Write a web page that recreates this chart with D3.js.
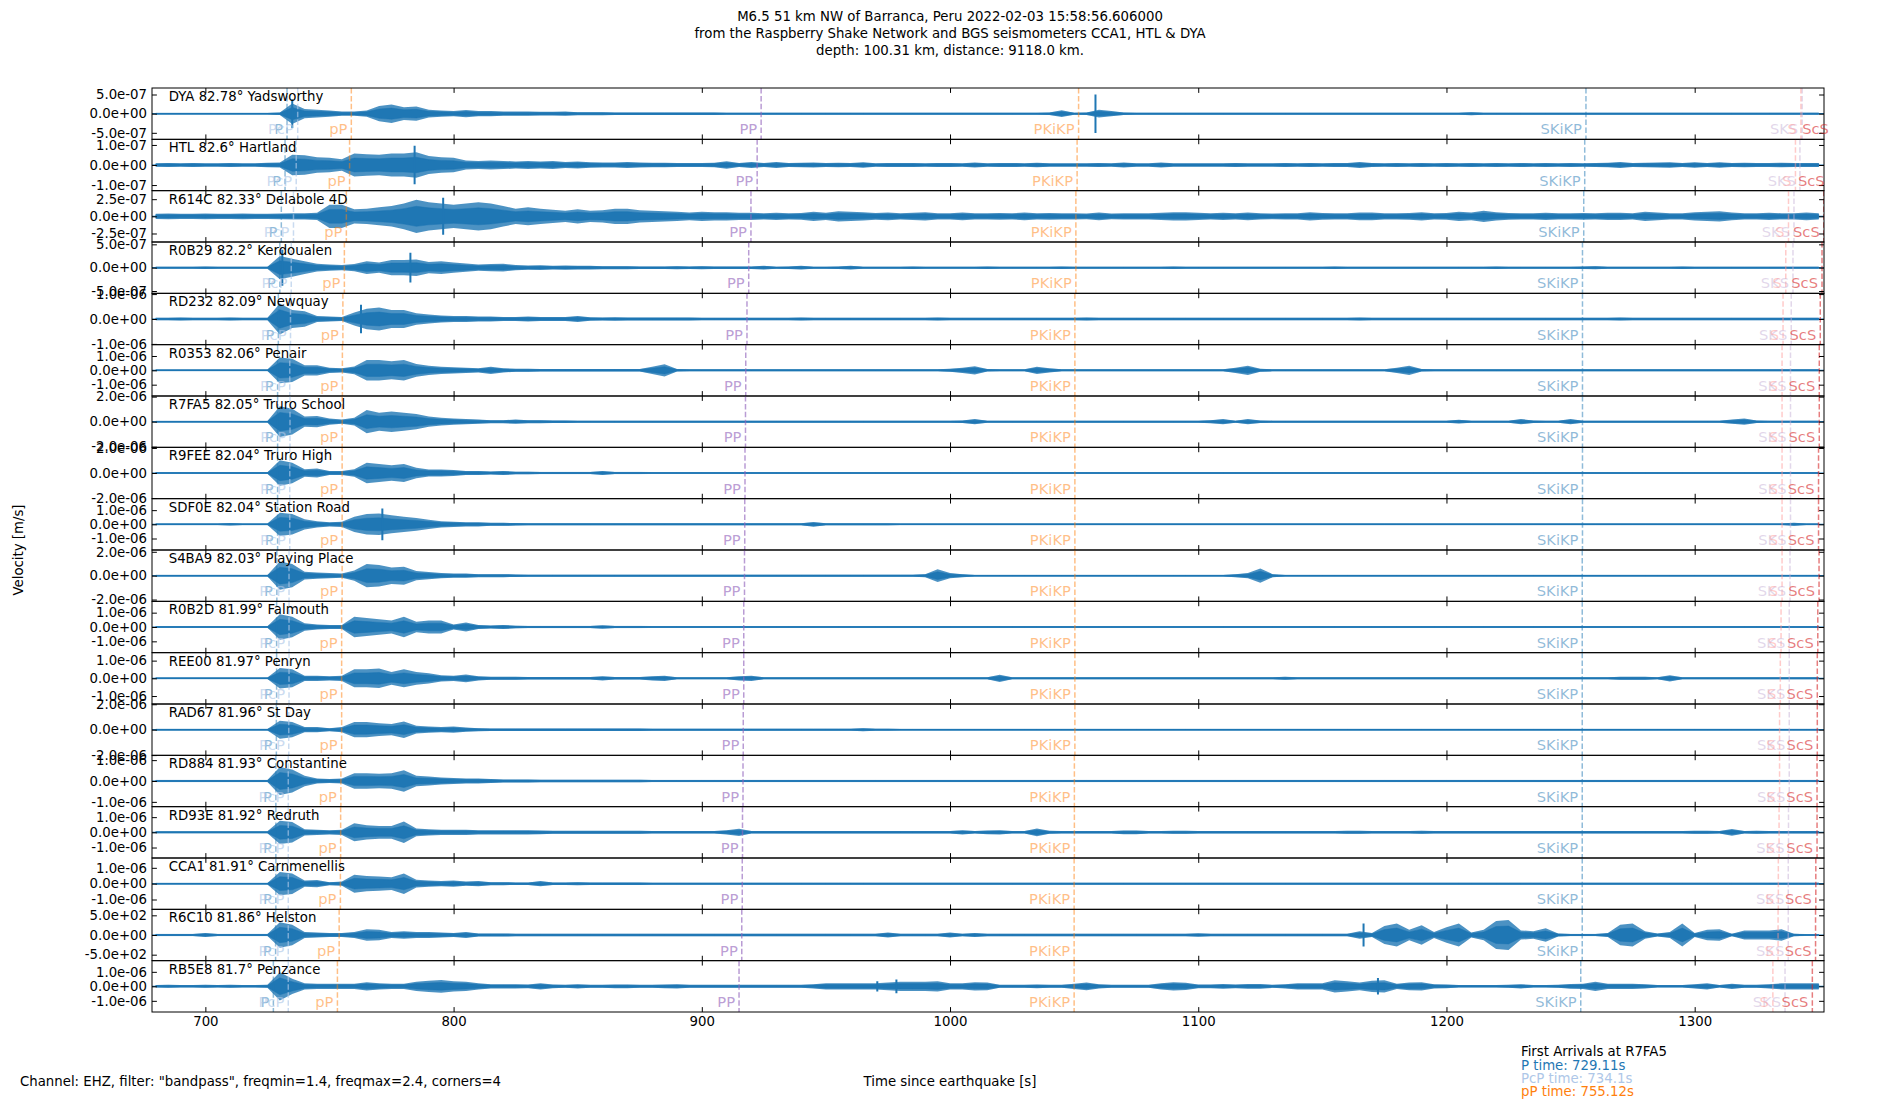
<!DOCTYPE html>
<html>
<head>
<meta charset="utf-8">
<script src="https://cdn.jsdelivr.net/npm/d3@7"></script>
<style>
  body { margin: 0; background: #fff; }
  svg { display: block; }
  text { font-family: "DejaVu Sans", sans-serif; }
</style>
</head>
<body>
<svg id="chart"></svg>
<script>
// ---- stations (top to bottom) ----
var stationCodes = ["DYA", "HTL", "R614C", "R0B29", "RD232", "R0353", "R7FA5", "R9FEE", "SDF0E",
                    "S4BA9", "R0B2D", "REE00", "RAD67", "RD884", "RD93E", "CCA1", "R6C10", "RB5E8"];
var stationDistances = [82.78, 82.6, 82.33, 82.2, 82.09, 82.06, 82.05, 82.04, 82.04,
                        82.03, 81.99, 81.97, 81.96, 81.93, 81.92, 81.91, 81.86, 81.7];
var stationNames = ["Yadsworthy", "Hartland", "Delabole 4D", "Kerdoualen", "Newquay", "Penair",
                    "Truro School", "Truro High", "Station Road", "Playing Place", "Falmouth", "Penryn",
                    "St Day", "Constantine", "Redruth", "Carnmenellis", "Helston", "Penzance"];

// amplitude limit of each panel (m/s, R6C10 in counts) and the tick step shown
var yLimits = [6.7e-7, 1.28e-7, 3.74e-7, 5.5e-7, 1.03e-6, 1.79e-6, 2.05e-6, 2.05e-6, 1.81e-6,
               2.15e-6, 1.79e-6, 1.45e-6, 2.02e-6, 1.23e-6, 1.69e-6, 1.62e-6, 652, 1.77e-6];
var yTickSteps = [5e-7, 1e-7, 2.5e-7, 5e-7, 1e-6, 1e-6, 2e-6, 2e-6, 1e-6,
                  2e-6, 1e-6, 1e-6, 2e-6, 1e-6, 1e-6, 1e-6, 500, 1e-6];

// x ticks (time since earthquake, s)
var xTicks = [700, 800, 900, 1000, 1100, 1200, 1300];

// ---- trace envelopes: peak amplitude every 5 s from 680 s, in % of the panel limit ----
var envDYA = [3,3,3,3,3,3,3,3,3,3, 5,40,18,15,12,8,8,12,30,36, 25,28,15,12,10,14,10,10,8,8,
  8,7,7,8,6,6,6,5,5,5, 5,5,5,5,5,5,4,4,4,4, 4,4,4,4,4,4,4,4,4,4, 4,4,4,4,4,4,4,4,4,4,
  4,4,5,13,4,5,15,10,5,4, 4,4,4,4,4,4,4,4,4,4, 4,4,4,4,4,4,4,4,4,4, 4,4,4,4,4,4,6,4,4,4,
  4,4,4,4,4,4,4,4,4,4, 4,4,4,4,4,4,4,4,4,4, 4,4,4,4,4];
var envHTL = [7,8,7,8,7,7,8,7,7,9, 10,40,38,30,28,22,45,42,40,45, 45,50,35,30,28,18,16,18,16,14,
  16,14,16,12,14,11,10,10,12,10, 9,9,8,8,8,9,15,8,12,8, 12,8,9,10,8,9,8,11,7,8, 8,8,7,8,8,7,10,7,8,8,
  7,9,7,7,7,7,8,7,10,7, 7,10,7,7,7,7,7,8,7,7, 7,8,7,8,7,8,8,12,8,7, 8,7,8,7,8,7,8,7,8,7,
  8,7,8,7,8,7,8,9,12,8, 9,10,11,8,11,8,11,8,9,8, 8,9,8,8,8];
var envR614C = [10,11,10,10,11,10,10,11,10,10, 11,12,12,14,45,45,28,30,35,40, 50,65,55,50,45,50,55,50,40,30,
  35,30,26,22,28,22,24,30,30,24, 22,20,18,15,18,16,16,14,14,12, 14,12,13,18,14,20,18,16,13,15,
  12,14,16,12,12,15,12,12,13,12, 15,12,13,12,12,11,15,11,12,12, 12,14,16,16,14,12,14,12,15,12,
  11,12,12,16,13,12,12,15,15,12, 12,13,16,12,13,18,15,22,16,13, 12,12,14,12,12,13,12,14,14,12,
  18,15,12,12,16,18,20,15,12,12, 14,12,12,15,12];
var envR0B29 = [4,4,4,4,5,4,4,4,4,4, 45,35,25,15,12,10,14,25,20,30, 30,32,22,25,20,16,12,14,15,10,
  8,9,7,8,7,7,6,6,6,5, 5,5,6,5,6,5,5,5,5,7, 4,5,7,4,4,5,7,4,4,4, 4,5,4,4,4,4,4,5,4,4,
  4,4,4,5,4,4,4,4,4,4, 4,4,5,4,4,4,4,4,4,4, 4,4,4,4,4,5,4,4,4,4, 4,4,4,4,4,4,4,4,5,4,
  4,4,4,4,4,5,6,4,4,4, 4,4,4,5,4,4,4,4,4,4, 4,4,4,4,4];
var envRD232 = [5,5,6,5,5,5,6,5,5,5, 60,35,30,12,10,8,25,40,45,35, 35,22,18,14,12,12,10,10,8,8,
  10,8,8,8,12,7,6,7,6,6, 6,6,6,6,5,5,5,5,5,5, 5,5,6,5,5,5,5,5,5,5, 5,5,5,6,5,5,5,5,5,5,
  5,5,5,5,5,6,5,5,5,5, 5,5,5,5,5,5,5,5,5,5, 5,5,5,5,5,5,5,6,5,5, 5,5,5,5,5,5,5,5,5,5,
  5,5,5,5,5,5,5,5,6,5, 5,5,5,5,5,5,5,5,5,5, 5,5,5,5,5];
var envR0353 = [3,3,3,3,3,3,3,3,3,3, 50,45,20,20,10,8,15,40,40,35, 40,25,18,14,12,10,8,14,8,6,
  6,5,5,5,5,5,5,5,5,5, 14,24,5,4,4,4,4,4,4,4, 4,4,4,4,4,4,4,4,4,4, 4,4,4,4,6,10,16,5,4,4,
  4,14,8,4,4,4,4,4,4,4, 4,4,4,4,4,4,4,10,18,6, 4,4,4,4,4,4,4,4,4,4, 10,18,5,4,4,4,4,4,4,4,
  4,4,4,4,4,4,4,4,4,4, 4,4,4,4,4,4,4,4,4,4, 4,4,4,4,4];
var envR7FA5 = [3,3,3,3,3,3,3,3,3,3, 60,50,20,22,12,8,15,45,35,40, 35,30,20,15,12,10,8,6,6,8,
  6,6,5,5,4,4,4,4,4,4, 4,4,4,4,4,4,4,4,4,4, 4,4,4,4,4,4,4,4,4,4, 4,4,4,4,4,5,10,4,4,4,
  4,4,4,4,4,4,4,4,4,4, 4,4,4,4,4,6,10,4,10,5, 4,4,4,4,4,4,4,4,4,4, 4,4,4,4,4,7,4,4,4,4,
  10,5,4,4,10,4,4,4,4,4, 4,4,4,4,4,4,4,8,12,5, 4,4,4,4,4];
var envR9FEE = [3,3,3,3,3,3,3,3,3,3, 50,40,15,18,8,8,15,40,35,30, 35,20,14,14,12,8,8,6,8,5,
  5,4,4,4,4,4,8,4,4,4, 3,3,3,3,3,3,3,3,3,3, 3,3,3,3,3,3,3,3,3,3, 3,3,3,3,3,3,3,3,3,3,
  3,3,3,3,3,3,3,3,3,3, 3,3,3,3,3,3,3,3,3,3, 3,3,3,3,3,3,3,3,3,3, 3,3,3,3,3,3,3,3,3,3,
  3,3,3,3,3,3,3,3,3,3, 3,3,3,3,3,3,3,3,3,3, 3,3,3,3,3];
var envSDF0E = [3,3,3,3,3,3,5,3,3,3, 45,40,20,12,8,10,30,40,42,35, 30,25,18,12,10,8,8,6,6,5,
  4,4,4,4,4,4,4,4,4,4, 4,4,4,4,4,4,4,4,4,4, 4,4,4,9,4,4,4,4,4,4, 3,3,3,3,3,3,3,3,3,3,
  3,3,3,3,3,3,3,3,3,3, 3,3,3,3,3,3,3,3,3,3, 3,3,3,3,3,3,3,3,3,3, 3,3,3,3,3,3,3,3,3,3,
  3,3,3,3,3,3,3,3,3,3, 3,3,3,3,3,3,3,3,3,3, 3,3,6,3,3];
var envS4BA9 = [3,3,3,3,3,3,3,3,3,3, 55,45,15,12,10,8,20,45,42,32, 35,18,14,10,8,8,6,6,6,5,
  4,4,4,4,4,4,4,4,4,4, 4,4,4,4,4,4,4,4,4,4, 4,4,4,4,4,4,4,4,4,4, 4,4,6,25,10,6,3,3,3,3,
  3,3,3,3,3,3,3,3,3,3, 3,3,3,3,3,3,3,6,10,28, 6,3,3,3,3,3,3,3,3,3, 3,3,3,3,3,3,3,3,3,3,
  3,3,3,3,3,3,3,3,3,3, 3,3,3,3,3,3,3,3,3,3, 3,3,3,3,3];
var envR0B2D = [3,3,3,3,3,3,3,3,3,3, 50,40,15,10,8,8,40,35,30,25, 40,20,25,25,10,18,8,6,8,5,
  4,4,4,4,4,4,7,4,4,4, 3,3,3,3,3,3,3,3,3,3, 3,3,3,3,3,3,3,3,3,3, 3,3,3,3,3,3,3,3,3,3,
  3,3,3,3,3,3,3,3,3,3, 3,3,3,3,3,3,3,3,3,3, 3,3,3,3,3,3,3,3,3,3, 3,3,3,3,3,3,3,3,3,3,
  3,3,3,3,3,3,3,3,3,3, 3,3,3,3,3,3,3,3,3,3, 3,3,3,3,3];
var envREE00 = [3,3,3,3,3,3,3,3,3,3, 40,35,10,10,8,10,35,35,38,25, 35,25,20,12,10,15,8,6,6,6,
  5,5,5,5,5,5,8,5,5,5, 8,10,4,4,4,4,4,8,10,4, 4,4,4,4,4,4,4,4,4,4, 4,4,4,4,4,4,4,4,14,4,
  4,4,4,4,4,4,4,4,4,4, 4,4,4,4,4,4,4,4,4,4, 4,6,4,4,4,4,4,4,4,4, 4,4,4,4,4,4,4,4,4,4,
  4,4,4,4,4,4,4,4,6,6, 6,4,12,4,4,4,4,4,4,4, 4,4,4,4,4];
var envRAD67 = [3,3,3,3,3,3,3,3,3,3, 35,30,10,10,6,10,30,30,25,22, 32,15,12,10,12,8,6,5,5,5,
  5,5,5,5,5,5,5,5,5,5, 4,4,4,4,4,4,4,4,4,4, 4,4,4,4,4,4,4,6,4,4, 3,3,3,3,3,3,3,3,3,3,
  3,3,3,3,3,3,3,3,3,3, 3,3,3,3,3,3,3,3,3,3, 3,3,3,3,3,3,3,3,3,3, 3,3,3,3,3,3,3,3,3,3,
  3,3,3,3,3,3,3,3,3,3, 3,3,3,3,3,3,3,3,3,3, 3,3,3,3,3];
var envRD884 = [4,4,4,4,4,4,4,4,4,4, 55,45,20,10,8,10,30,30,28,30, 42,20,18,14,12,10,10,8,6,6,
  6,5,5,5,5,5,5,5,5,5, 4,4,4,4,4,4,4,4,4,4, 4,4,4,4,4,4,4,4,4,4, 4,4,4,4,4,4,4,4,4,4,
  4,4,4,4,4,4,4,4,4,4, 4,4,4,4,4,4,4,4,4,4, 4,4,4,4,4,4,4,4,4,4, 4,4,4,4,4,4,4,4,4,4,
  4,4,4,4,4,4,4,4,4,4, 4,4,4,4,4,4,4,4,4,4, 4,4,4,4,4];
var envRD93E = [4,4,4,4,4,4,4,4,4,4, 45,40,12,10,8,10,35,28,25,25, 42,15,12,10,10,10,8,8,8,8,
  8,7,6,6,6,6,6,6,6,6, 5,5,5,5,5,5,8,14,5,5, 5,5,5,5,5,5,5,5,5,5, 5,5,5,5,5,8,5,7,8,5,
  5,15,6,5,5,5,5,5,7,7, 5,5,6,6,5,5,5,5,5,5, 5,5,5,5,5,5,6,6,5,5, 5,5,6,5,5,5,5,5,5,5,
  5,5,5,5,5,5,5,5,5,5, 5,5,5,5,6,6,5,13,5,6, 5,5,5,5,5];
var envCCA1 = [3,3,3,3,3,3,3,3,3,3, 45,40,12,14,6,8,35,30,28,25, 40,15,12,10,12,8,10,6,6,5,
  5,10,5,5,6,5,5,5,5,5, 4,4,4,4,4,4,4,4,4,4, 4,4,4,4,4,4,4,4,4,4, 4,4,4,4,4,4,4,4,4,4,
  4,4,4,4,4,4,4,4,4,4, 4,4,4,4,4,4,4,4,4,4, 4,4,4,4,4,4,4,4,4,4, 4,4,4,4,4,4,4,4,4,4,
  4,4,4,4,4,4,4,4,4,4, 4,4,4,4,4,4,4,4,4,4, 4,4,4,4,4];
var envR6C10 = [4,4,4,4,8,4,4,4,4,4, 50,40,12,10,8,8,12,22,20,12, 15,12,12,10,8,12,6,6,6,5,
  5,5,5,5,5,5,5,5,5,5, 5,5,5,5,5,5,5,5,5,5, 5,5,5,5,5,5,5,5,5,10, 5,5,5,5,10,5,8,5,5,5,
  5,5,5,5,5,5,5,5,5,5, 5,5,5,5,7,5,5,5,5,5, 5,5,5,5,5,5,5,15,8,35, 45,20,38,12,30,45,10,20,55,58,
  18,15,26,6,4,4,4,8,40,45, 15,6,12,45,8,20,22,5,18,18, 18,22,5,3,3];
var envRB5E8 = [5,6,5,5,6,5,6,5,5,6, 55,30,12,10,10,10,10,16,12,10, 10,18,22,25,20,18,12,8,8,8,
  7,12,7,6,8,6,6,7,7,6, 6,7,8,6,6,6,6,6,6,6, 6,6,6,8,12,12,12,12,12,15, 18,18,18,20,12,12,16,15,6,6,
  6,7,6,6,10,15,8,6,6,6, 6,12,16,14,7,7,9,7,9,9, 6,8,12,12,12,24,20,15,22,24, 10,15,16,8,7,5,5,5,5,6,
  8,5,5,6,9,10,18,10,10,10, 8,5,5,5,8,12,5,10,6,6, 8,12,12,12,12];

var envelopes = [envDYA, envHTL, envR614C, envR0B29, envRD232, envR0353, envR7FA5, envR9FEE, envSDF0E,
                 envS4BA9, envR0B2D, envREE00, envRAD67, envRD884, envRD93E, envCCA1, envR6C10, envRB5E8];
var envStart = 680, envStep = 5;

// sharp single peaks (% of the panel limit)
var peakStations = ["DYA", "DYA", "HTL", "R614C", "R0B29", "R0B29", "RD232", "SDF0E", "R6C10", "RB5E8", "RB5E8", "RB5E8"];
var peakTimes = [735.0, 1058.6, 784.3, 795.8, 731.0, 782.6, 762.7, 771.3, 1166.6, 970.7, 978.4, 1172.4];
var peakAmps = [56, 75, 75, 72, 70, 58, 56, 62, 45, 20, 27, 32];

// ---- predicted phase arrivals per station (s) ----
var phaseNames = ["P", "PcP", "pP", "PP", "PKiKP", "SKiKP", "SKS", "S", "ScS"];
var phaseColors = ["#1f77b4", "#aec7e8", "#ff7f0e", "#9467bd", "#ff7f0e", "#1f77b4", "#c5b0d5", "#ff9896", "#d62728"];
var phaseAlpha = [0.5, 0.65, 0.5, 0.65, 0.5, 0.5, 0.5, 0.5, 0.6];
var timesP     = [732.9, 732.1, 730.6, 730.0, 729.4, 729.1, 729.11, 729.1, 729.1, 728.8, 728.7, 728.7, 728.6, 728.4, 728.4, 728.4, 728.3, 727.4];
var timesPcP   = [737.2, 736.6, 735.5, 734.6, 734.3, 734.0, 734.1, 734.0, 734.0, 733.7, 733.7, 733.7, 733.6, 733.4, 733.4, 733.4, 733.4, 733.4];
var timespP    = [758.8, 758.1, 756.8, 756.0, 755.4, 755.2, 755.12, 755.1, 755.1, 755.1, 754.9, 754.9, 754.9, 754.6, 754.5, 754.4, 753.9, 753.2];
var timesPP    = [923.9, 922.3, 919.8, 918.9, 918.2, 917.7, 917.6, 917.4, 917.3, 917.2, 916.9, 916.9, 916.7, 916.6, 916.4, 916.3, 916.1, 915.0];
var timesPKiKP = [1051.8, 1051.2, 1050.7, 1050.7, 1050.3, 1050.3, 1050.3, 1050.3, 1050.3, 1050.3, 1050.3, 1050.3, 1050.3, 1050.1, 1050.1, 1050.0, 1050.0, 1050.0];
var timesSKiKP = [1256.2, 1255.7, 1255.3, 1254.8, 1254.8, 1254.8, 1254.8, 1254.8, 1254.8, 1254.7, 1254.7, 1254.7, 1254.7, 1254.7, 1254.7, 1254.7, 1254.7, 1254.1];
var timesSKS   = [1343.3, 1342.4, 1340.0, 1339.6, 1338.9, 1338.6, 1338.6, 1338.6, 1338.6, 1338.4, 1338.1, 1338.1, 1338.1, 1338.1, 1337.8, 1337.7, 1337.7, 1336.4];
var timesS     = [1342.8, 1340.6, 1337.8, 1336.7, 1335.6, 1335.2, 1335.2, 1335.2, 1335.2, 1335.2, 1334.8, 1334.5, 1334.2, 1334.2, 1334.0, 1333.7, 1333.6, 1331.5];
var timesScS   = [1355.7, 1354.0, 1352.0, 1351.3, 1350.6, 1350.2, 1350.2, 1349.9, 1349.9, 1350.1, 1349.6, 1349.4, 1349.4, 1349.3, 1349.3, 1348.8, 1348.7, 1347.4];
var phaseTimes = [timesP, timesPcP, timespP, timesPP, timesPKiKP, timesSKiKP, timesSKS, timesS, timesScS];

// first arrivals box
var arrivalPhases = ["P", "PcP", "pP"];
var arrivalTimes = ["729.11", "734.1", "755.12"];
var arrivalColors = ["#1f77b4", "#aec7e8", "#ff7f0e"];

var titleLines = ["M6.5 51 km NW of Barranca, Peru 2022-02-03 15:58:56.606000",
                  "from the Raspberry Shake Network and BGS seismometers CCA1, HTL & DYA",
                  "depth: 100.31 km, distance: 9118.0 km."];

// ---- layout ----
var margin = { top: 88, right: 76, bottom: 88, left: 152 },
    width = 1900 - margin.left - margin.right,
    height = 1100 - margin.top - margin.bottom,
    panelH = height / stationCodes.length;

var svg = d3.select("#chart")
    .attr("width", 1900)
    .attr("height", 1100);

svg.append("defs").append("clipPath").attr("id", "panel-clip")
  .append("rect").attr("width", width).attr("height", panelH);

var xScale = d3.scaleLinear()
    .domain([678.5, 1352.1])
    .range([0, width]);

function sci(v) {
  var p = v.toExponential(1).split("e");
  var e = +p[1];
  return p[0] + "e" + (e < 0 ? "-" : "+") + String(Math.abs(e)).padStart(2, "0");
}

function styleAxis(g) {
  g.select(".domain").remove();
  g.selectAll(".tick line").attr("stroke", "#000").attr("stroke-width", 1);
  g.selectAll(".tick text").attr("fill", "#000")
    .style("font-family", "DejaVu Sans").style("font-size", "13.3px");
}

stationCodes.forEach(function(code, i) {
  var lim = yLimits[i];
  var yScale = d3.scaleLinear().domain([-lim, lim]).range([panelH, 0]);
  var panel = svg.append("g")
      .attr("transform", "translate(" + margin.left + "," + (margin.top + i * panelH) + ")");

  var samples = envelopes[i].map(function(p, k) {
    return { t: envStart + k * envStep, a: p / 100 * lim };
  });

  var trace = panel.append("g").attr("clip-path", "url(#panel-clip)");
  trace.append("line")
    .attr("x1", 0).attr("x2", width)
    .attr("y1", yScale(0)).attr("y2", yScale(0))
    .attr("stroke", "#1f77b4").attr("stroke-width", 1.1);

  // outer (peak) envelope a little lighter, inner core solid
  trace.append("path")
    .datum(samples)
    .attr("fill", "#1f77b4").attr("fill-opacity", 0.8)
    .attr("d", d3.area()
      .x(function(d) { return xScale(d.t); })
      .y0(function(d) { return yScale(-d.a); })
      .y1(function(d) { return yScale(d.a); }));
  trace.append("path")
    .datum(samples)
    .attr("fill", "#1f77b4")
    .attr("stroke", "#1f77b4").attr("stroke-width", 0.5)
    .attr("d", d3.area()
      .x(function(d) { return xScale(d.t); })
      .y0(function(d) { return yScale(-d.a * 0.6); })
      .y1(function(d) { return yScale(d.a * 0.6); }));

  peakStations.forEach(function(s, k) {
    if (s !== code) return;
    var a = peakAmps[k] / 100 * lim;
    trace.append("line")
      .attr("x1", xScale(peakTimes[k])).attr("x2", xScale(peakTimes[k]))
      .attr("y1", yScale(-a)).attr("y2", yScale(a))
      .attr("stroke", "#1f77b4").attr("stroke-width", 2);
  });

  // phase lines
  phaseNames.forEach(function(ph, j) {
    var t = phaseTimes[j][i];
    trace.append("line")
      .attr("x1", xScale(t)).attr("x2", xScale(t))
      .attr("y1", 0).attr("y2", panelH)
      .attr("stroke", phaseColors[j]).attr("stroke-opacity", phaseAlpha[j])
      .attr("stroke-width", 1.5)
      .attr("stroke-dasharray", "5.5,2.4");
  });

  // axes
  panel.append("g").call(d3.axisTop(xScale).tickValues(xTicks).tickSizeInner(-4.9).tickSizeOuter(0).tickFormat(""))
    .call(styleAxis);
  panel.append("g").attr("transform", "translate(0," + panelH + ")")
    .call(d3.axisBottom(xScale).tickValues(xTicks).tickSizeInner(-4.9).tickSizeOuter(0).tickPadding(5)
      .tickFormat(i === stationCodes.length - 1 ? d3.format("d") : ""))
    .call(styleAxis);

  var yt = [-yTickSteps[i], 0, yTickSteps[i]];
  panel.append("g")
    .call(d3.axisLeft(yScale).tickValues(yt).tickSizeInner(-4.9).tickSizeOuter(0).tickPadding(5).tickFormat(sci))
    .call(styleAxis);
  panel.append("g").attr("transform", "translate(" + width + ",0)")
    .call(d3.axisRight(yScale).tickValues(yt).tickSizeInner(-4.9).tickSizeOuter(0).tickFormat(""))
    .call(styleAxis);

  panel.append("rect")
    .attr("width", width).attr("height", panelH)
    .attr("fill", "none").attr("stroke", "#000").attr("stroke-width", 1);

  // phase labels
  phaseNames.forEach(function(ph, j) {
    var t = phaseTimes[j][i];
    panel.append("text")
      .attr("x", xScale(t) - 4)
      .attr("y", panelH - 5)
      .attr("text-anchor", "end")
      .attr("fill", phaseColors[j]).attr("fill-opacity", phaseAlpha[j])
      .style("font-size", "14.7px")
      .text(ph);
  });

  panel.append("text")
    .attr("x", width * 0.01)
    .attr("y", 13)
    .style("font-size", "13.3px")
    .attr("fill", "#000")
    .text(code + " " + stationDistances[i] + "\u00b0 " + stationNames[i]);
});

// titles and labels
svg.selectAll(".title-line").data(titleLines).enter().append("text")
  .attr("class", "title-line")
  .attr("x", 950)
  .attr("y", function(d, k) { return 20.5 + k * 17; })
  .attr("text-anchor", "middle")
  .style("font-size", "13.3px")
  .text(function(d) { return d; });

svg.append("text")
  .attr("transform", "translate(18," + (margin.top + height / 2) + ") rotate(-90)")
  .attr("text-anchor", "middle").attr("dy", "0.35em")
  .style("font-size", "13.3px")
  .text("Velocity [m/s]");

svg.append("text")
  .attr("x", 950).attr("y", 1086)
  .attr("text-anchor", "middle")
  .style("font-size", "13.3px")
  .text("Time since earthquake [s]");

svg.append("text")
  .attr("x", 20).attr("y", 1086)
  .style("font-size", "13.3px")
  .text("Channel: EHZ, filter: \"bandpass\", freqmin=1.4, freqmax=2.4, corners=4");

svg.append("text")
  .attr("x", 1521).attr("y", 1056)
  .style("font-size", "13.3px")
  .text("First Arrivals at " + stationCodes[6]);

arrivalPhases.forEach(function(ph, k) {
  svg.append("text")
    .attr("x", 1521).attr("y", 1069.5 + k * 13.4)
    .attr("fill", arrivalColors[k])
    .style("font-size", "13.3px")
    .text(ph + " time: " + arrivalTimes[k] + "s");
});
</script>
</body>
</html>
